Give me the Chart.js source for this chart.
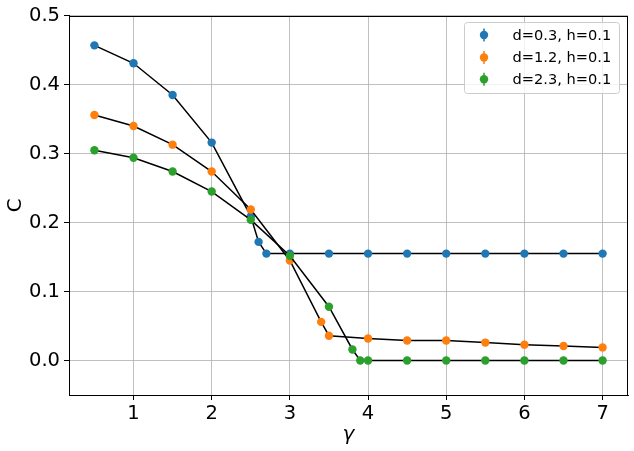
<!DOCTYPE html>
<html>
<head>
<meta charset="utf-8">
<script src="https://cdn.jsdelivr.net/npm/chart.js@4"></script>
<style>
html, body { margin: 0; padding: 0; background: #fff; }
</style>
</head>
<body>
<canvas id="chart" width="634" height="451"></canvas>
<script>
// series data
const gammaD03 = [0.5, 1, 1.5, 2, 2.5, 2.6, 2.7, 3, 3.5, 4, 4.5, 5, 5.5, 6, 6.5, 7];
const cD03 = [0.457, 0.431, 0.385, 0.316, 0.209, 0.172, 0.155, 0.155, 0.155, 0.155, 0.155, 0.155, 0.155, 0.155, 0.155, 0.155];

const gammaD12 = [0.5, 1, 1.5, 2, 2.5, 3, 3.4, 3.5, 4, 4.5, 5, 5.5, 6, 6.5, 7];
const cD12 = [0.356, 0.340, 0.313, 0.274, 0.219, 0.145, 0.056, 0.036, 0.032, 0.029, 0.029, 0.026, 0.023, 0.021, 0.019];

const gammaD23 = [0.5, 1, 1.5, 2, 2.5, 3, 3.5, 3.8, 3.9, 4, 4.5, 5, 5.5, 6, 6.5, 7];
const cD23 = [0.305, 0.294, 0.274, 0.245, 0.204, 0.152, 0.078, 0.016, 0, 0, 0, 0, 0, 0, 0, 0];

const seriesLabels = ["d=0.3, h=0.1", "d=1.2, h=0.1", "d=2.3, h=0.1"];
const seriesColors = ["#1f77b4", "#ff7f0e", "#2ca02c"];

const xTicks = [1, 2, 3, 4, 5, 6, 7];
const yTicks = [0.0, 0.1, 0.2, 0.3, 0.4, 0.5];

const FONT = "'DejaVu Sans', sans-serif";

// zip x and y into points
const toPoints = (xs, ys) => xs.map((x, i) => ({ x: x, y: ys[i] }));

const makeSet = (idx, xs, ys, order) => ({
    label: seriesLabels[idx],
    data: toPoints(xs, ys),
    borderColor: "#000",
    borderWidth: 1.5,
    pointRadius: 4.2,
    pointBorderWidth: 0,
    pointBackgroundColor: seriesColors[idx],
    pointBorderColor: seriesColors[idx],
    tension: 0,
    order: order
});

// legend inside the axes, matplotlib style (errorbar markers)
const innerLegend = {
    id: "innerLegend",
    afterDraw(chart) {
        const ctx = chart.ctx;
        const a = chart.chartArea;
        ctx.save();
        // frame of axes
        ctx.strokeStyle = "#000";
        ctx.lineWidth = 1;
        ctx.strokeRect(Math.round(a.left) + 0.5, Math.round(a.top) + 0.5, Math.round(a.right - a.left) - 1, Math.round(a.bottom - a.top));

        const bx = 464.5, by = 22.5, bw = 155, bh = 71, r = 3;
        ctx.beginPath();
        ctx.moveTo(bx + r, by);
        ctx.arcTo(bx + bw, by, bx + bw, by + bh, r);
        ctx.arcTo(bx + bw, by + bh, bx, by + bh, r);
        ctx.arcTo(bx, by + bh, bx, by, r);
        ctx.arcTo(bx, by, bx + bw, by, r);
        ctx.closePath();
        ctx.fillStyle = "rgba(255,255,255,0.8)";
        ctx.fill();
        ctx.strokeStyle = "#cccccc";
        ctx.stroke();

        const rows = [35, 57.5, 79.3];
        ctx.font = "14.6px " + FONT;
        ctx.textBaseline = "middle";
        ctx.textAlign = "left";
        rows.forEach((cy, i) => {
            ctx.strokeStyle = seriesColors[i];
            ctx.lineWidth = 1.5;
            ctx.beginPath();
            ctx.moveTo(484, cy - 6.5);
            ctx.lineTo(484, cy + 6.5);
            ctx.stroke();
            ctx.fillStyle = seriesColors[i];
            ctx.beginPath();
            ctx.arc(484, cy, 4.2, 0, Math.PI * 2);
            ctx.fill();
            ctx.fillStyle = "#000";
            ctx.fillText(seriesLabels[i], 512.5, cy + 1);
        });
        ctx.restore();
    }
};

new Chart(document.getElementById("chart"), {
    type: "line",
    data: {
        datasets: [
            makeSet(0, gammaD03, cD03, 2),
            makeSet(1, gammaD12, cD12, 1),
            makeSet(2, gammaD23, cD23, 0)
        ]
    },
    options: {
        responsive: false,
        animation: false,
        layout: { padding: { top: 15, right: 6, left: 0, bottom: 0 } },
        plugins: {
            legend: { display: false },
            tooltip: { enabled: false }
        },
        scales: {
            x: {
                type: "linear",
                min: 0.175,
                max: 7.325,
                afterBuildTicks: (s) => { s.ticks = xTicks.map(v => ({ value: v })); },
                afterFit: (s) => { s.height = 56; },
                ticks: {
                    color: "#000",
                    font: { family: FONT, size: 19.5 },
                    padding: 2,
                    maxRotation: 0,
                    callback: (v) => String(v)
                },
                grid: { color: "#b0b0b0", lineWidth: 0.8, tickLength: 5, tickColor: "#000", tickWidth: 1 },
                border: { display: true, color: "#000", width: 1 },
                title: {
                    display: true,
                    text: "γ",
                    color: "#000",
                    font: { family: FONT, size: 20, style: "italic" },
                    padding: { top: 0, bottom: 4 }
                }
            },
            y: {
                type: "linear",
                min: -0.05,
                max: 0.5,
                afterBuildTicks: (s) => { s.ticks = yTicks.map(v => ({ value: v })); },
                afterFit: (s) => { s.width = 69; },
                ticks: {
                    color: "#000",
                    font: { family: FONT, size: 19.5 },
                    padding: 4,
                    callback: (v) => Number(v).toFixed(1)
                },
                grid: { color: "#b0b0b0", lineWidth: 0.8, tickLength: 5, tickColor: "#000", tickWidth: 1 },
                border: { display: true, color: "#000", width: 1 },
                title: {
                    display: true,
                    text: "C",
                    color: "#000",
                    font: { family: FONT, size: 20 },
                    padding: { top: 4, bottom: 0 }
                }
            }
        }
    },
    plugins: [innerLegend]
});
</script>
</body>
</html>
